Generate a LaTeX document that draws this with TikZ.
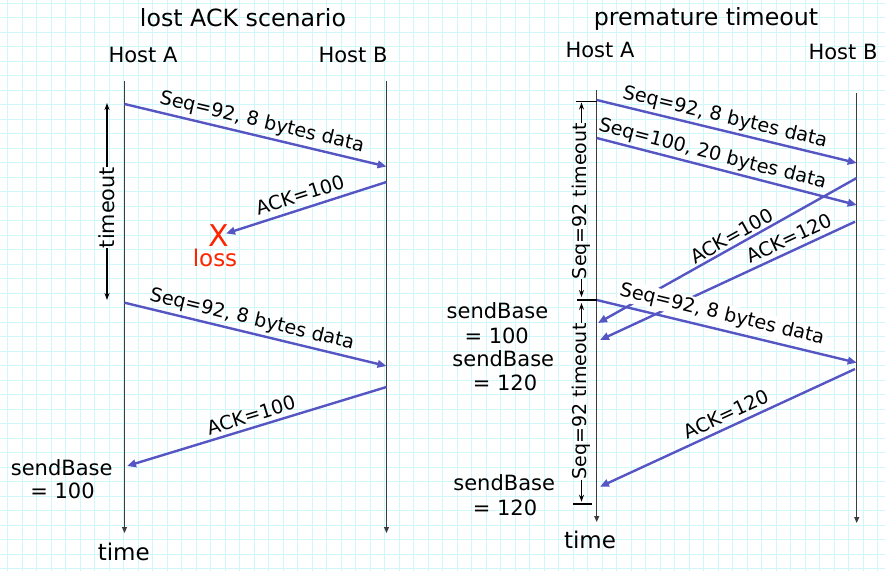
\documentclass[tikz,border=0pt]{standalone}
\usepackage{fontspec}
\setmainfont{DejaVu Sans}
\usetikzlibrary{arrows.meta}
\definecolor{gridcyan}{RGB}{208,248,250}
\definecolor{msgblue}{RGB}{85,85,195}
\definecolor{lossred}{RGB}{255,35,0}
\definecolor{axisgray}{RGB}{60,60,60}

\begin{document}
\begin{tikzpicture}[x=1pt,y=-1pt,
  gridline/.style={draw=gridcyan,line width=1.2pt},
  timeline/.style={draw=axisgray,line width=1pt,-{Triangle[length=6pt,width=5pt]}},
  msg/.style={draw=msgblue,line width=2.4pt,-{Triangle[length=9pt,width=7.5pt]}},
  tmo/.style={draw=black,line width=1.3pt,-{Stealth[length=7pt,width=5pt]}},
  tick/.style={draw=black,line width=1.3pt},
  lbl/.style={font=\fontsize{19.2}{21}\selectfont,inner sep=0pt},
  title/.style={font=\fontsize{23.7}{28}\selectfont,inner sep=0pt,anchor=base},
  host/.style={font=\fontsize{21}{24}\selectfont,inner sep=0pt,anchor=base},
  note/.style={font=\fontsize{21}{24}\selectfont,inner sep=0pt,anchor=base},
  timetxt/.style={font=\fontsize{23}{26}\selectfont,inner sep=0pt,anchor=base},
  tmotxt/.style={font=\fontsize{19}{21}\selectfont,inner sep=0pt,rotate=90}
]
% canvas and squared paper
\fill[white] (0,0) rectangle (885,571);
\useasboundingbox (0,0) rectangle (885,571);
\foreach \i in {0,...,60} \draw[gridline] ({7.7+14.5*\i},0) -- ++(0,571);
\foreach \j in {0,...,39} \draw[gridline] (0,{3.3+14.5*\j}) -- ++(885,0);

% ---------------- lost ACK scenario ----------------
\node[title] (t1) at (243,26.5) {lost ACK scenario};
\node[host] (hA1) at (143,62.3) {Host A};
\node[host] (hB1) at (353,62.3) {Host B};

\coordinate (LAtop) at (124.5,81);  \coordinate (LAbot) at (124.5,533);
\coordinate (LBtop) at (386.5,81);  \coordinate (LBbot) at (386.5,533);
\draw[timeline] (LAtop) -- (LAbot);
\draw[timeline] (LBtop) -- (LBbot);

\coordinate (ls1) at (124.5,104);   \coordinate (lr1) at (386.5,166.5);
\coordinate (ls2) at (386.5,182);   \coordinate (lr2) at (226,233.5);
\coordinate (ls3) at (124.5,302.7); \coordinate (lr3) at (386.5,366);
\coordinate (ls4) at (386.5,387);   \coordinate (lr4) at (127,466);
\draw[msg] (ls1) -- (lr1);
\draw[msg] (ls2) -- (lr2);
\draw[msg] (ls3) -- (lr3);
\draw[msg] (ls4) -- (lr4);

\node[lbl,rotate=-13.4] (m1) at (262,122.5) {Seq=92, 8 bytes data};
\node[lbl,rotate=17.6]  (m2) at (300,195) {ACK=100};
\node[lbl,rotate=-13.5] (m3) at (252,319.5) {Seq=92, 8 bytes data};
\node[lbl,rotate=17]    (m4) at (251,415) {ACK=100};

\node[font=\fontsize{30}{32}\selectfont,text=lossred,inner sep=0pt,anchor=base] (xx) at (218.3,246.7) {X};
\node[font=\fontsize{23}{26}\selectfont,text=lossred,inner sep=0pt,anchor=base] (loss) at (215,266.7) {loss};

% timeout interval
\node[tmotxt,font=\fontsize{20.8}{22}\selectfont] (toL) at (107,207.5) {timeout};
\coordinate (tL1) at (107,103);
\coordinate (tL4) at (107,300);
\draw[tmo] (toL.east) -- (tL1);
\draw[tmo] (toL.west) -- (tL4);

\node[note] (sbL1) at (61.7,475) {sendBase};
\node[note] (sbL2) at (62.5,498.3) {= 100};
\node[timetxt] (tmL) at (123.8,560) {time};

% ---------------- premature timeout ----------------
\node[title] (t2) at (706,25) {premature timeout};
\node[host] (hA2) at (600,57.3) {Host A};
\node[host] (hB2) at (843,59.3) {Host B};

\coordinate (RAtop) at (596.7,90);  \coordinate (RAbot) at (596.7,522);
\coordinate (RBtop) at (856.7,93);  \coordinate (RBbot) at (856.7,523);
\draw[timeline] (RAtop) -- (RAbot);
\draw[timeline] (RBtop) -- (RBbot);

\coordinate (rs1) at (596.7,100);   \coordinate (rr1) at (856.7,163);
\coordinate (rs2) at (596.7,138);   \coordinate (rr2) at (856.7,205);
\coordinate (rs3) at (856.7,178);   \coordinate (rr3) at (598,323);
\coordinate (rs4) at (855,221.7);   \coordinate (rr4) at (600,340);
\coordinate (rs5) at (596.7,300);   \coordinate (rr5) at (856.7,362.7);
\coordinate (rs6) at (855,369);     \coordinate (rr6) at (600,486.7);
\draw[msg] (rs1) -- (rr1);
\draw[msg] (rs2) -- (rr2);
\draw[msg] (rs3) -- (rr3);
\draw[msg] (rs4) -- (rr4);
\draw[msg] (rs6) -- (rr6);

\node[lbl,rotate=-13.6] (n1) at (725,117.5) {Seq=92, 8 bytes data};
\node[lbl,rotate=-14.4] (n2) at (712.5,154.5) {Seq=100, 20 bytes data};
\node[lbl,rotate=29]    (n3) at (731.7,236) {ACK=100};
\node[lbl,rotate=24.9]  (n4) at (789,238) {ACK=120};
\node[lbl,rotate=-13.5,fill=white,inner sep=1.5pt] (n5) at (722,314.5) {Seq=92, 8 bytes data};
\node[lbl,rotate=24.8]  (n6) at (726,414) {ACK=120};
\draw[msg] (rs5) -- (rr5);

% two retransmission timers
\node[tmotxt] (toR1) at (581.5,201) {Seq=92 timeout};
\coordinate (tR1a) at (581.5,102.5);
\coordinate (tR1b) at (581.5,297);
\draw[tmo] (toR1.east) -- (tR1a);
\draw[tmo] (toR1.west) -- (tR1b);
\coordinate (k1a) at (575.7,101.7); \coordinate (k1b) at (596.7,101.7);
\draw[tick] (k1a) -- (k1b);
\coordinate (k2a) at (577,300);     \coordinate (k2b) at (596.7,300);
\draw[tick,line width=2.6pt] (k2a) -- (k2b);

\node[tmotxt] (toR2) at (581.5,401.5) {Seq=92 timeout};
\coordinate (tR2a) at (581.5,303);
\coordinate (tR2b) at (581.5,501.7);
\draw[tmo] (toR2.east) -- (tR2a);
\draw[tmo] (toR2.west) -- (tR2b);
\coordinate (k3a) at (573,504);     \coordinate (k3b) at (592,504);
\draw[tick] (k3a) -- (k3b);

\node[note] (sbR1) at (497.5,318.3) {sendBase};
\node[note] (sbR2) at (496.7,343.3) {= 100};
\node[note] (sbR3) at (503.3,366) {sendBase};
\node[note] (sbR4) at (505,390) {= 120};
\node[note] (sbR5) at (504.2,490) {sendBase};
\node[note] (sbR6) at (505,515) {= 120};
\node[timetxt] (tmR) at (590,548.3) {time};
\end{tikzpicture}
\end{document}
